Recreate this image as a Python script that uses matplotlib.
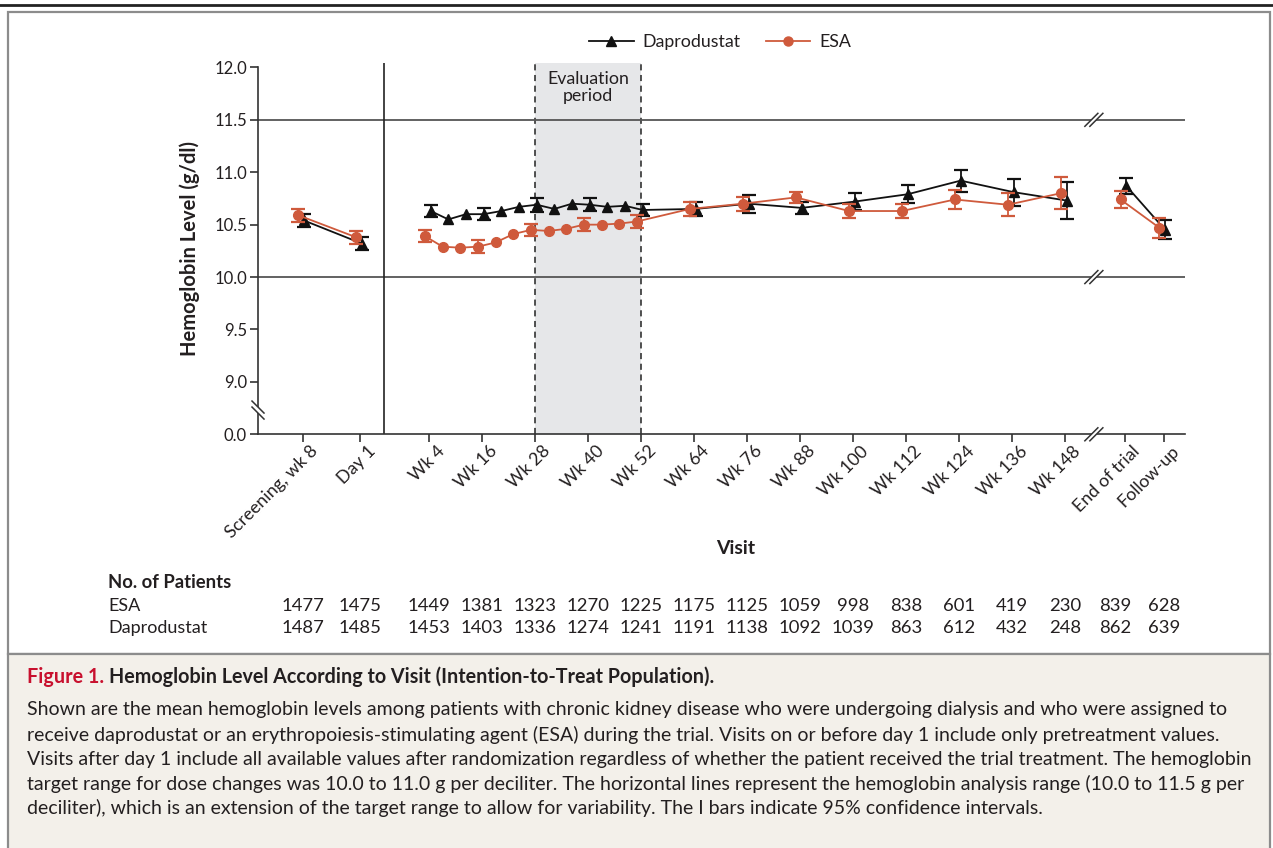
import numpy as np
import matplotlib.pyplot as plt
import matplotlib.transforms as mtransforms
from matplotlib.lines import Line2D
from matplotlib.patches import Rectangle, Polygon

plt.rcParams['font.family'] = ['Lato', 'DejaVu Sans']

# ---- data ----
pre_labels = ["Screening, wk 8", "Day 1"]
post_labels = ["End of trial", "Follow-up"]
main_weeks = [4, 8, 12, 16, 20, 24, 28, 32, 36, 40, 44, 48, 52,
              64, 76, 88, 100, 112, 124, 136, 148]
tick_weeks = [4, 16, 28, 40, 52, 64, 76, 88, 100, 112, 124, 136, 148]
tick_labels_main = ["Wk %d" % w for w in tick_weeks]

dap_pre = [10.54, 10.32]
dap_pre_ci = [0.06, 0.06]
esa_pre = [10.59, 10.38]
esa_pre_ci = [0.06, 0.06]

dap_main = [10.63, 10.55, 10.60, 10.60, 10.63, 10.67, 10.69, 10.65, 10.70,
            10.69, 10.67, 10.68, 10.64, 10.65, 10.70, 10.66, 10.72, 10.79,
            10.92, 10.81, 10.73]
esa_main = [10.39, 10.29, 10.28, 10.29, 10.33, 10.41, 10.45, 10.44, 10.46,
            10.50, 10.50, 10.51, 10.53, 10.65, 10.70, 10.76, 10.63, 10.63,
            10.74, 10.69, 10.80]
# CI half-widths at the tick weeks only
dap_main_ci = [0.06, 0.06, 0.065, 0.06, 0.06, 0.065, 0.085, 0.06, 0.08,
               0.085, 0.105, 0.13, 0.18]
esa_main_ci = [0.06, 0.06, 0.06, 0.06, 0.06, 0.065, 0.065, 0.055, 0.07,
               0.07, 0.09, 0.11, 0.155]

dap_post = [10.87, 10.45]
dap_post_ci = [0.075, 0.09]
esa_post = [10.74, 10.47]
esa_post_ci = [0.08, 0.095]

esa_n = [1477, 1475, 1449, 1381, 1323, 1270, 1225, 1175, 1125, 1059, 998,
         838, 601, 419, 230, 839, 628]
dap_n = [1487, 1485, 1453, 1403, 1336, 1274, 1241, 1191, 1138, 1092, 1039,
         863, 612, 432, 248, 862, 639]

# ---- layout ----
W, H = 1273, 848
AX_L, AX_R, AX_T, AX_B = 258, 1185, 62.7, 434.3
XMIN, XMAX = -34.8, 175.1
YMIN, YMAX = 8.5, 12.045          # 8.5 stands for the broken-axis 0.0
pre_x = [-24.7, -11.6]
post_x = [161.5, 170.3]
divider_x = -6.2
break_x = 154.9
ESA_SHIFT, DAP_SHIFT = -1.0, 0.3

ESA_COLOR = '#cf5a3c'
DAP_COLOR = '#111111'
TXT = '#231f20'
LINE_GRAY = '#555555'


def fx(x):
    return x / W


def fy(y):
    return 1 - y / H


fig = plt.figure(figsize=(W / 100, H / 100), dpi=100)
fig.patch.set_facecolor('white')

# frame: white chart panel + beige caption panel
fig.add_artist(Rectangle((fx(8), fy(654)), fx(1262), 654 / H - 12 / H,
                         facecolor='white', edgecolor='#8c8c8c', lw=1.6,
                         zorder=-2))
fig.add_artist(Rectangle((fx(8), fy(860)), fx(1262), 206 / H,
                         facecolor='#f3f0ea', edgecolor='#8c8c8c', lw=1.6,
                         zorder=-2))
fig.add_artist(Line2D([0, 1], [fy(5), fy(5)], color='#222222', lw=2.0,
                      zorder=-1))

ax = fig.add_axes([fx(AX_L), fy(AX_B), (AX_R - AX_L) / W, (AX_B - AX_T) / H])
ax.patch.set_alpha(0)
ax.set_xlim(XMIN, XMAX)
ax.set_ylim(YMIN, YMAX)

px_x = (AX_R - AX_L) / (XMAX - XMIN)
px_y = (AX_B - AX_T) / (YMAX - YMIN)

# evaluation period
ax.axvspan(28, 52, color='#e6e7e9', lw=0, zorder=0)
for xv in (28, 52):
    ax.axvline(xv, color='#222222', lw=1.1, ls=(0, (4, 3)), zorder=1)
ax.text(40, 11.965, "Evaluation\nperiod", ha='center', va='top',
        fontsize=12.8, color=TXT, linespacing=1.1)

# analysis range lines and divider
for yv in (10.0, 11.5):
    ax.axhline(yv, color=LINE_GRAY, lw=1.3, zorder=1)
ax.axvline(divider_x, color='#222222', lw=1.2, zorder=1)


def draw_series(x, y, ci, ci_idx, color, marker, ms, shift, z):
    xs = np.asarray(x, float) + shift
    ys = np.asarray(y, float)
    ax.plot(xs, ys, color=color, lw=1.3, marker=marker, ms=ms,
            mec=color, mfc=color, zorder=z)
    ax.errorbar(xs[ci_idx], ys[ci_idx], yerr=ci, fmt='none', ecolor=color,
                elinewidth=1.3, capsize=5, capthick=1.6, zorder=z)


all_idx = [0, 1]
main_idx = [main_weeks.index(w) for w in tick_weeks]

for xvals, d, dci, e, eci, idx in [
        (pre_x, dap_pre, dap_pre_ci, esa_pre, esa_pre_ci, all_idx),
        (main_weeks, dap_main, dap_main_ci, esa_main, esa_main_ci, main_idx),
        (post_x, dap_post, dap_post_ci, esa_post, esa_post_ci, all_idx)]:
    draw_series(xvals, d, dci, idx, DAP_COLOR, '^', 7.5, DAP_SHIFT, 3)
    draw_series(xvals, e, eci, idx, ESA_COLOR, 'o', 7, ESA_SHIFT, 4)

# axes styling
for s in ('top', 'right'):
    ax.spines[s].set_visible(False)
ax.spines['left'].set_bounds(YMIN, 12.0)
for s in ('left', 'bottom'):
    ax.spines[s].set_color('#333333')
    ax.spines[s].set_linewidth(1.2)

yt = [8.5, 9.0, 9.5, 10.0, 10.5, 11.0, 11.5, 12.0]
ax.set_yticks(yt)
ax.set_yticklabels(["0.0"] + ["%.1f" % v for v in yt[1:]])
xt = pre_x + tick_weeks + post_x
ax.set_xticks(xt)
ax.set_xticklabels(pre_labels + tick_labels_main + post_labels,
                   rotation=45, ha='right', va='top',
                   rotation_mode='anchor')
ax.tick_params(axis='both', colors='#333333', labelcolor=TXT, labelsize=12,
               length=6, width=1.2)
ax.tick_params(axis='x', labelsize=12.8, pad=1)
ax.tick_params(axis='y', pad=2)
shift = mtransforms.ScaledTranslation(7 / 100, 1 / 100, fig.dpi_scale_trans)
for lab in ax.get_xticklabels():
    lab.set_transform(lab.get_transform() + shift)

ax.set_ylabel("Hemoglobin Level (g/dl)", fontsize=14.5, fontweight='bold',
              color=TXT, labelpad=10)
fig.text(fx(736), fy(548), "Visit", ha='center', va='center',
         fontsize=14, fontweight='bold', color=TXT)


# break marks
def slash(xc, yc, dx, dy, sep_x, sep_y):
    # white gap, then two slanted strokes (offsets in pixels)
    gx = [xc - dx / 2 / px_x, xc + dx / 2 / px_x,
          xc + (dx / 2 + sep_x) / px_x, xc + (-dx / 2 + sep_x) / px_x]
    gy = [yc - dy / 2 / px_y, yc + dy / 2 / px_y,
          yc + (dy / 2 + sep_y) / px_y, yc + (-dy / 2 + sep_y) / px_y]
    ax.add_patch(Polygon(list(zip(gx, gy)), closed=True, facecolor='white',
                         edgecolor='none', zorder=6, clip_on=False))
    for k in (0, 1):
        ax.plot([gx[0] + k * sep_x / px_x, gx[1] + k * sep_x / px_x],
                [gy[0] + k * sep_y / px_y, gy[1] + k * sep_y / px_y],
                color='#333333', lw=1.1, zorder=7, clip_on=False)


for yv in (YMIN, 10.0, 11.5):
    slash(break_x - 1.0, yv, 13, 13, 5, 0)
slash(XMIN, 8.76, -12, 12, 0, -6)

# legend
handles = [Line2D([], [], color=DAP_COLOR, marker='^', ms=7, lw=1.3),
           Line2D([], [], color=ESA_COLOR, marker='o', ms=6.5, lw=1.3)]
fig.legend(handles, ["Daprodustat", "ESA"], loc='center',
           bbox_to_anchor=(fx(720), fy(42)), ncol=2, frameon=False,
           fontsize=12.8, handlelength=2.5, columnspacing=1.4,
           handletextpad=0.5, labelcolor=TXT)

# patient numbers
tr = mtransforms.blended_transform_factory(ax.transData, fig.transFigure)
col_x = list(xt)
col_x[-2] -= 10 / px_x
fig.text(fx(108), fy(583), "No. of Patients", fontsize=13.3,
         fontweight='bold', color=TXT, va='center')
for label, nums, yy in (("ESA", esa_n, 606), ("Daprodustat", dap_n, 628)):
    fig.text(fx(108), fy(yy), label, fontsize=13, color=TXT, va='center')
    for cx, n in zip(col_x, nums):
        ax.text(cx, fy(yy), str(n), transform=tr, ha='center', va='center',
                fontsize=13.3, color=TXT, clip_on=False)

# caption
renderer = fig.canvas.get_renderer()
t1 = fig.text(fx(27), fy(677), "Figure 1.", fontsize=14.2,
              fontweight='bold', color='#c8102e', va='center')
bb = t1.get_window_extent(renderer)
fig.text(bb.x1 / W + fx(5), fy(677),
         "Hemoglobin Level According to Visit "
         "(Intention-to-Treat Population).",
         fontsize=14.2, fontweight='bold', color=TXT, va='center')

caption_lines = [
    "Shown are the mean hemoglobin levels among patients with chronic kidney "
    "disease who were undergoing dialysis and who were assigned to",
    "receive daprodustat or an erythropoiesis-stimulating agent (ESA) during "
    "the trial. Visits on or before day 1 include only pretreatment values.",
    "Visits after day 1 include all available values after randomization "
    "regardless of whether the patient received the trial treatment. "
    "The hemoglobin",
    "target range for dose changes was 10.0 to 11.0 g per deciliter. The "
    "horizontal lines represent the hemoglobin analysis range (10.0 to 11.5 "
    "g per",
    "deciliter), which is an extension of the target range to allow for "
    "variability. The I bars indicate 95% confidence intervals.",
]
for i, line in enumerate(caption_lines):
    fig.text(fx(27), fy(710 + 24.5 * i), line, fontsize=14, color=TXT,
             va='center')

fig.savefig("out.png", dpi=100)
